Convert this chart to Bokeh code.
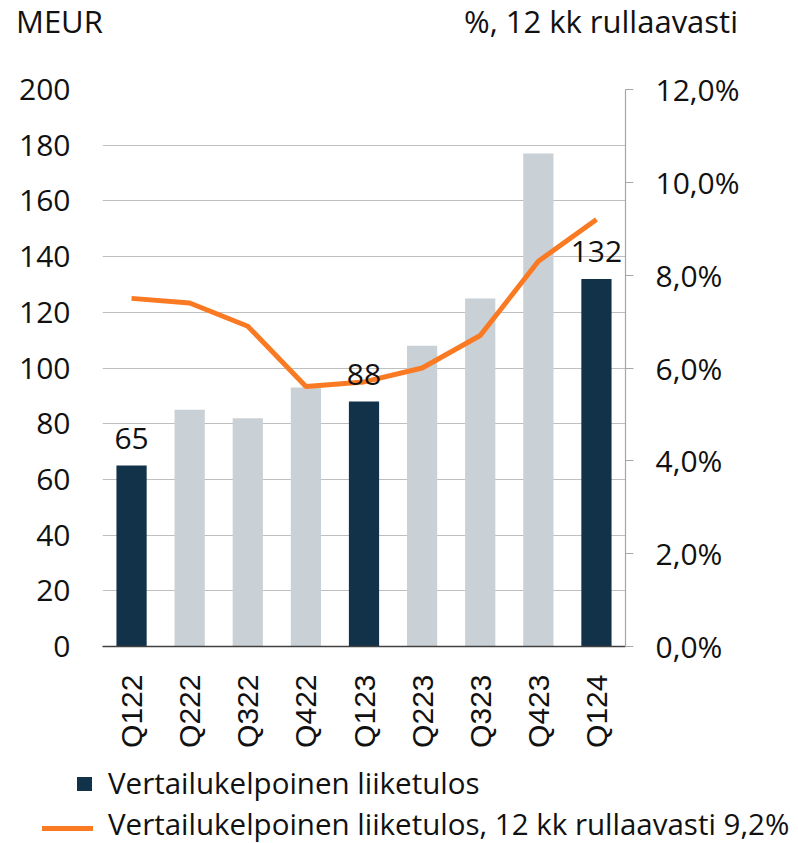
import math
from bokeh.plotting import figure
from bokeh.layouts import column
from bokeh.models import (ColumnDataSource, Range1d, LinearAxis, FixedTicker,
                          CustomJSTickFormatter, FactorRange, Div)
from bokeh.core.properties import value
from bokeh.embed import file_html
from bokeh.resources import INLINE

# ---- data ----
quarters = ["Q122", "Q222", "Q322", "Q422", "Q123", "Q223", "Q323", "Q423", "Q124"]
liiketulos = [65, 85, 82, 93, 88, 108, 125, 177, 132]          # MEUR
rullaava_pct = [7.5, 7.4, 6.9, 5.6, 5.7, 6.0, 6.7, 8.3, 9.2]    # %, 12 kk rullaavasti
highlight = ["Q122", "Q123", "Q124"]
left_ticks = [0, 20, 40, 60, 80, 100, 120, 140, 160, 180, 200]
right_ticks = [0, 2, 4, 6, 8, 10, 12]
bar_label = "Vertailukelpoinen liiketulos"
line_label = "Vertailukelpoinen liiketulos, 12 kk rullaavasti 9,2%"
left_title = "MEUR"
right_title = "%, 12 kk rullaavasti"

# ---- styles ----
DARK = "#12324A"
LIGHT = "#C9D0D6"
ORANGE = "#FA7A23"
TXT = "#111111"
FONT = "Open Sans"
FS = "30px"
W = 798
HEAD_H = 60
FOOT_H = 93
FIG_H = 843 - HEAD_H - FOOT_H

colors = [DARK if q in highlight else LIGHT for q in quarters]
src = ColumnDataSource(dict(q=quarters, v=liiketulos, c=colors))
lab_q = [q for q in quarters if q in highlight]
lab_v = [v for q, v in zip(quarters, liiketulos) if q in highlight]
lab_src = ColumnDataSource(dict(q=lab_q, v=lab_v, t=[str(v) for v in lab_v]))

base_css = (f"position:relative;width:{W}px;font-family:'{FONT}';"
            f"color:{TXT};white-space:nowrap;")

# ---- header: axis titles ----
head = Div(text=(f'<div style="{base_css}height:{HEAD_H}px;font-size:31px;">'
                 f'<span style="position:absolute;left:16px;top:2px;line-height:38px;">{left_title}</span>'
                 f'<span style="position:absolute;right:60px;top:2px;line-height:38px;">{right_title}</span>'
                 '</div>'),
           width=W, height=HEAD_H, margin=0)

# ---- main chart ----
p = figure(x_range=FactorRange(*quarters), y_range=Range1d(0, 200),
           width=W, height=FIG_H, output_backend="svg", toolbar_location=None,
           min_border_left=102, min_border_right=W - 625, min_border_top=89 - HEAD_H,
           min_border_bottom=(HEAD_H + FIG_H) - 649, margin=0)
p.outline_line_color = None
p.xgrid.visible = False
p.ygrid.grid_line_color = "#BFBFBF"
p.ygrid.grid_line_width = 1.2

ya = p.yaxis[0]
ya.ticker = FixedTicker(ticks=left_ticks)
ya.axis_line_color = None
ya.major_tick_line_color = None
ya.minor_tick_line_color = None
ya.major_label_standoff = 26
ya.major_label_text_font = FONT
ya.major_label_text_font_size = FS
ya.major_label_text_color = TXT

xa = p.xaxis[0]
xa.axis_line_color = "#404040"
xa.axis_line_width = 1.5
xa.major_tick_line_color = None
xa.minor_tick_line_color = None
xa.major_label_orientation = math.pi / 2
xa.major_label_standoff = 22
xa.major_label_text_font = "Liberation Sans"
xa.major_label_text_font_size = FS
xa.major_label_text_color = TXT

p.extra_y_ranges = {"pct": Range1d(0, 12)}
ra = LinearAxis(y_range_name="pct", ticker=FixedTicker(ticks=right_ticks),
                formatter=CustomJSTickFormatter(code="return tick.toFixed(1).replace('.', ',') + '%';"))
ra.axis_line_color = "#A6A6A6"
ra.axis_line_width = 1.2
ra.major_tick_line_color = "#A6A6A6"
ra.major_tick_out = 8
ra.major_tick_in = 0
ra.minor_tick_line_color = None
ra.major_label_standoff = 22
ra.major_label_text_font = FONT
ra.major_label_text_font_size = FS
ra.major_label_text_color = TXT
p.add_layout(ra, "right")

p.vbar(x="q", top="v", width=0.52, fill_color="c", line_color=None, source=src)
p.line(x=quarters, y=rullaava_pct, y_range_name="pct", line_color=ORANGE, line_width=5)
p.text(x="q", y="v", text="t", source=lab_src, text_font=value(FONT), text_font_size=FS,
       text_align="center", text_baseline="alphabetic", y_offset=-27, text_color=TXT)

# ---- footer: legend ----
foot = Div(text=(f'<div style="{base_css}height:{FOOT_H}px;font-size:29.5px;">'
                 f'<span style="position:absolute;left:77px;top:27px;width:15px;height:14px;background:{DARK};"></span>'
                 f'<span style="position:absolute;left:108px;top:14px;line-height:38px;">{bar_label}</span>'
                 f'<span style="position:absolute;left:42px;top:76px;width:51px;height:5px;background:{ORANGE};"></span>'
                 f'<span style="position:absolute;left:108px;top:55px;line-height:38px;">{line_label}</span>'
                 '</div>'),
           width=W, height=FOOT_H, margin=0)

open("out.html", "w").write(file_html(column(head, p, foot, spacing=0), INLINE))
